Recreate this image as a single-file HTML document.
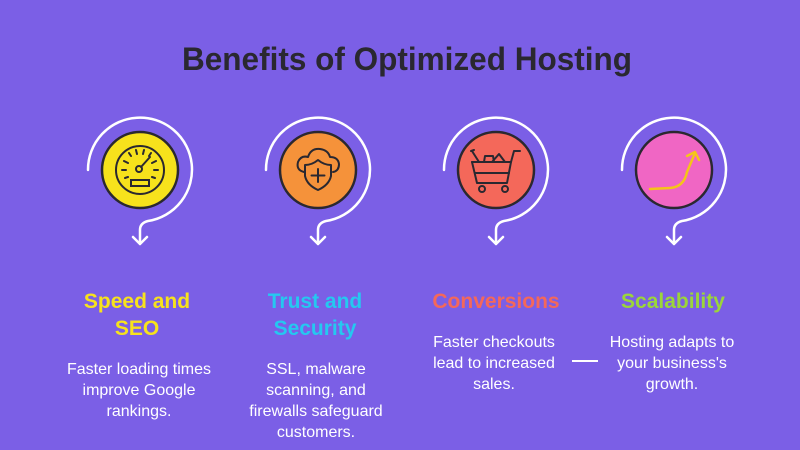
<!DOCTYPE html>
<html><head><meta charset="utf-8"><style>
html,body{margin:0;padding:0;background:#7b5fe6;}
svg{display:block;font-family:"Liberation Sans",sans-serif;}
</style></head><body>
<svg width="800" height="450" viewBox="0 0 800 450">
<rect width="800" height="450" fill="#7b5fe6"/>
<text x="407" y="70" text-anchor="middle" font-size="32" font-weight="bold" fill="#2a2830" textLength="450" lengthAdjust="spacingAndGlyphs">Benefits of Optimized Hosting</text>

<g fill="none" stroke="#fff" stroke-width="2.5" stroke-linecap="round" stroke-linejoin="round">
<path d="M88,170 A52,52 0 1 1 148,221 Q140,223 140,230 L140,244 M133,237 L140,244 L147,237"/>
<path d="M266,170 A52,52 0 1 1 326,221 Q318,223 318,230 L318,244 M311,237 L318,244 L325,237"/>
<path d="M444,170 A52,52 0 1 1 504,221 Q496,223 496,230 L496,244 M489,237 L496,244 L503,237"/>
<path d="M622,170 A52,52 0 1 1 682,221 Q674,223 674,230 L674,244 M667,237 L674,244 L681,237"/>
</g>

<g stroke="#2a2830" stroke-width="2.5">
<circle cx="140" cy="170" r="38" fill="#f7e21c"/>
<circle cx="318" cy="170" r="38" fill="#f5923a"/>
<circle cx="496" cy="170" r="38" fill="#f4685a"/>
<circle cx="674" cy="170" r="38" fill="#f066c4"/>
</g>

<g fill="none" stroke="#2a2830" stroke-width="2" stroke-linecap="round">
<circle cx="140" cy="170" r="24"/>
<circle cx="139" cy="169" r="3"/>
<path d="M141,167 L150,157"/>
<rect x="131" y="180" width="18" height="6"/>
<path d="M122,170 L126,170 M154,170 L158,170 M124,161 L128,163 M156,161 L152,163 M129,153 L131,156 M151,153 L149,156 M136,150 L137,154 M144,150 L143,154 M125,178 L128,177 M155,178 L152,177"/>
</g>
<g fill="none" stroke="#2a2830" stroke-width="2" stroke-linecap="round" stroke-linejoin="round">
<path d="M304,172 Q296,170 298,162 Q301,155 308,157 Q311,148 320,149 Q328,150 330,157 Q338,157 339,164 Q339,171 333,172"/>
<path d="M318,160 Q312,165 305,165 L305,176 Q307,185 318,190 Q329,185 331,176 L331,165 Q324,165 318,160 Z"/>
<path d="M318,169 L318,182 M311.5,175.5 L324.5,175.5"/>
</g>
<g fill="none" stroke="#2a2830" stroke-width="2" stroke-linecap="round" stroke-linejoin="round">
<path d="M472,162 L511,162 L514,151 L520,151"/>
<path d="M472,162 L477,183 L507,183 L511,162"/>
<path d="M475,173 L509,173"/>
<path d="M472,151 L479,162 M471,151 L474,150"/>
<path d="M484,162 L485,156 L493,156 L494,162 M492,162 L499,154 L505,162"/>
<circle cx="482" cy="189" r="3"/><circle cx="505" cy="189" r="3"/>
</g>
<g fill="none" stroke="#f5c518" stroke-width="2.5" stroke-linecap="round" stroke-linejoin="round">
<path d="M650,189 L670,188 Q684,187 687,172 L695,153"/>
<path d="M687,156 L695,152 L699,160"/>
</g>

<g font-weight="bold" font-size="21" text-anchor="middle">
<text x="137" y="308" fill="#f7e21c">Speed and</text>
<text x="137" y="335" fill="#f7e21c">SEO</text>
<text x="315" y="308" fill="#25c8f0">Trust and</text>
<text x="315" y="335" fill="#25c8f0">Security</text>
<text x="496" y="308" fill="#f4685a">Conversions</text>
<text x="673" y="308" fill="#9bd53a">Scalability</text>
</g>
<g font-size="16" fill="#fff" text-anchor="middle">
<text x="139" y="374">Faster loading times</text>
<text x="139" y="395">improve Google</text>
<text x="139" y="416">rankings.</text>
<text x="316" y="374">SSL, malware</text>
<text x="316" y="395">scanning, and</text>
<text x="316" y="416">firewalls safeguard</text>
<text x="316" y="437">customers.</text>
<text x="494" y="347">Faster checkouts</text>
<text x="494" y="368">lead to increased</text>
<text x="494" y="389">sales.</text>
<text x="672" y="347">Hosting adapts to</text>
<text x="672" y="368">your business's</text>
<text x="672" y="389">growth.</text>
</g>
<line x1="572" y1="361" x2="598" y2="361" stroke="#fff" stroke-width="2"/>
</svg>
</body></html>
